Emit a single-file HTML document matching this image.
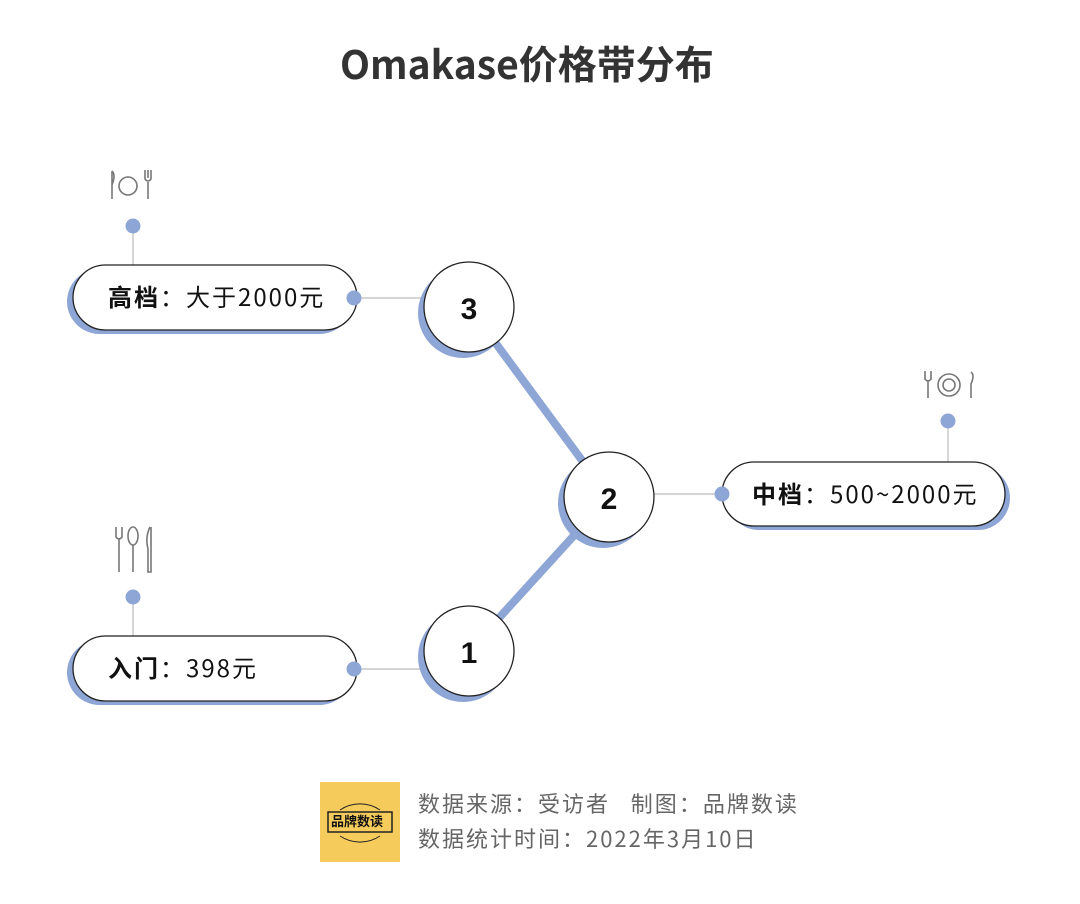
<!DOCTYPE html>
<html><head><meta charset="utf-8"><style>
body{margin:0;background:#fff;width:1080px;height:904px;position:relative;overflow:hidden;font-family:"Noto Sans CJK SC","Liberation Sans",sans-serif}
.t{position:absolute;white-space:nowrap;line-height:1.2}
.p{font-size:24px;letter-spacing:2px;color:#111}
.c{display:inline-block;width:26px;text-align:center}
.f{font-size:22px;letter-spacing:2px;color:#666}
.fc{display:inline-block;width:24px;text-align:center}
</style></head><body>
<svg width="1080" height="904" style="position:absolute;left:0;top:0">
<g stroke="#8ea6d6" stroke-width="8" stroke-linecap="round">
<line x1="469" y1="307" x2="609" y2="497"/>
<line x1="609" y1="497" x2="469" y2="651"/>
</g>
<g stroke="#bbb" stroke-width="1.2">
<line x1="354" y1="298" x2="425" y2="298"/>
<line x1="354" y1="669" x2="425" y2="669"/>
<line x1="654" y1="494" x2="722" y2="494"/>
<line x1="133" y1="226" x2="133" y2="266"/>
<line x1="133" y1="597" x2="133" y2="637"/>
<line x1="948" y1="421" x2="948" y2="463"/>
</g>
<rect x="67" y="269" width="285" height="65" rx="32.5" fill="#8ea6d6"/>
<rect x="73" y="265" width="284" height="65" rx="32.5" fill="#fff" stroke="#222" stroke-width="1.3"/>
<rect x="67" y="640" width="285" height="65" rx="32.5" fill="#8ea6d6"/>
<rect x="73" y="636" width="284" height="65" rx="32.5" fill="#fff" stroke="#222" stroke-width="1.3"/>
<rect x="727" y="466" width="283" height="64" rx="32" fill="#8ea6d6"/>
<rect x="722" y="462" width="283" height="64" rx="32" fill="#fff" stroke="#222" stroke-width="1.3"/>
<circle cx="463" cy="313" r="45" fill="#8ea6d6"/>
<circle cx="469" cy="307" r="45" fill="#fff" stroke="#222" stroke-width="1.3"/>
<circle cx="603" cy="503" r="45" fill="#8ea6d6"/>
<circle cx="609" cy="497" r="45" fill="#fff" stroke="#222" stroke-width="1.3"/>
<circle cx="463" cy="657" r="45" fill="#8ea6d6"/>
<circle cx="469" cy="651" r="45" fill="#fff" stroke="#222" stroke-width="1.3"/>
<g fill="#8ea6d6">
<circle cx="354" cy="298" r="7.5"/><circle cx="354" cy="669" r="7.5"/><circle cx="722" cy="494" r="7.5"/>
<circle cx="133" cy="226" r="7.5"/><circle cx="133" cy="597" r="7.5"/><circle cx="948" cy="421" r="7.5"/>
</g>
<g fill="none" stroke="#777" stroke-width="1.6">
<path d="M112 171 v28 M112 171 q4 4 0 14"/><circle cx="128" cy="186" r="9"/><path d="M145 170 v9 q3 4 6 0 v-9 M148 170v8 M148 182 v17"/>
<path d="M925 371 v8 q3 4 6 0 v-8 M928 380 v18"/><circle cx="949" cy="385" r="11"/><circle cx="949" cy="385" r="6"/><path d="M971 372 q4 3 0 12 v14"/>
<path d="M116 527 v10 q3 4 6 0 v-10 M119 538 v34"/><ellipse cx="133" cy="536" rx="5" ry="9"/><path d="M133 545 v27"/><path d="M150 527 q-5 10 -2 22 v23 h3 v-45"/>
</g>
<text x="469" y="319" font-size="30" font-weight="bold" text-anchor="middle" fill="#111" font-family="Liberation Sans,sans-serif">3</text>
<text x="609" y="509" font-size="30" font-weight="bold" text-anchor="middle" fill="#111" font-family="Liberation Sans,sans-serif">2</text>
<text x="469" y="663" font-size="30" font-weight="bold" text-anchor="middle" fill="#111" font-family="Liberation Sans,sans-serif">1</text>
<rect x="320" y="782" width="80" height="80" fill="#f5cb5c"/>
<path d="M340 810 a36 36 0 0 1 40 0 M340 836 a36 36 0 0 0 40 0" fill="none" stroke="#222" stroke-width="1"/>
<rect x="328" y="812" width="64" height="20" fill="none" stroke="#222" stroke-width="1.5"/>
</svg>
<div class="t" style="left:340px;top:40px;font-size:39px;font-weight:bold;color:#333">Omakase价格带分布</div>
<div class="t p" style="left:108px;top:282px"><b>高档</b><span class="c">：</span>大于2000元</div>
<div class="t p" style="left:108px;top:653px"><b>入门</b><span class="c">：</span>398元</div>
<div class="t p" style="left:752px;top:479px"><b>中档</b><span class="c">：</span>500~2000元</div>
<div class="t" style="left:331px;top:813px;font-size:13px;font-weight:bold;color:#111">品牌数读</div>
<div class="t f" style="left:418px;top:790px">数据来源<span class="fc">：</span>受访者&nbsp;&nbsp;&nbsp;制图<span class="fc">：</span>品牌数读</div>
<div class="t f" style="left:418px;top:825px">数据统计时间<span class="fc">：</span>2022年3月10日</div>
</body></html>
